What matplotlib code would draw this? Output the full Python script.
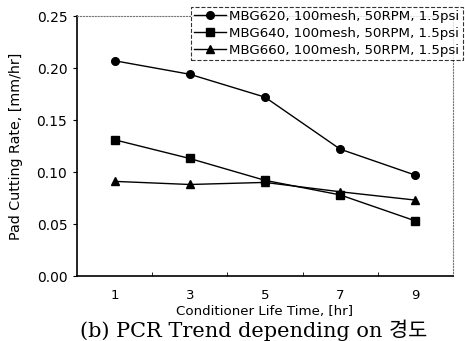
import matplotlib
matplotlib.use("Agg")
import matplotlib.pyplot as plt

# conditioner life time [hr]
life_time = [1, 3, 5, 7, 9]

# pad cutting rate [mm/hr]
mbg620 = [0.207, 0.194, 0.172, 0.122, 0.097]
mbg640 = [0.131, 0.113, 0.092, 0.078, 0.053]
mbg660 = [0.091, 0.088, 0.090, 0.081, 0.073]

labels = ["MBG620, 100mesh, 50RPM, 1.5psi",
          "MBG640, 100mesh, 50RPM, 1.5psi",
          "MBG660, 100mesh, 50RPM, 1.5psi"]
markers = ["o", "s", "^"]

plt.rcParams['font.family'] = ['DejaVu Sans']

fig = plt.figure(figsize=(4.65, 3.41), dpi=100)
ax = fig.add_axes([0.1656, 0.1906, 0.8084, 0.7624])

for ys, lab, m in zip([mbg620, mbg640, mbg660], labels, markers):
    ax.plot(life_time, ys, color='black', lw=1.0, marker=m, markersize=5.5, label=lab)

ax.set_xlim(0, 10)
ax.set_ylim(0, 0.25)
ax.set_xticks(life_time)
ax.set_xticks([2, 4, 6, 8], minor=True)
ax.tick_params(axis='x', which='major', length=0, labelsize=9.5, pad=9)
ax.tick_params(axis='x', which='minor', length=3, direction='in')
ax.set_yticks([0, 0.05, 0.10, 0.15, 0.20, 0.25])
ax.set_yticklabels(["0.00", "0.05", "0.10", "0.15", "0.20", "0.25"])
ax.tick_params(axis='y', length=3, direction='out', labelsize=10, pad=4)

for s in ['top', 'right']:
    ax.spines[s].set_linestyle(':')
    ax.spines[s].set_color('#777777')
    ax.spines[s].set_linewidth(0.8)
for s in ['left', 'bottom']:
    ax.spines[s].set_linewidth(1.2)

ax.set_ylabel("Pad Cutting Rate, [mm/hr]", fontsize=10.3, labelpad=10)
ax.set_xlabel("Conditioner Life Time, [hr]", fontsize=9.6, labelpad=2.5)

leg = ax.legend(loc='upper left', bbox_to_anchor=(0.411, 0.98),
                bbox_transform=fig.transFigure, fontsize=9.6, frameon=True,
                fancybox=False, borderpad=0.25, labelspacing=0.3,
                handlelength=2.4, handletextpad=0.2, borderaxespad=0)
leg.get_frame().set_edgecolor('black')
leg.get_frame().set_linestyle('--')
leg.get_frame().set_linewidth(0.8)

fig.text(0.545, 0.012, "(b) PCR Trend depending on 경도", ha='center',
         fontsize=15, family=['DejaVu Serif', 'Noto Sans CJK KR'])

fig.savefig("out.png", dpi=100)
